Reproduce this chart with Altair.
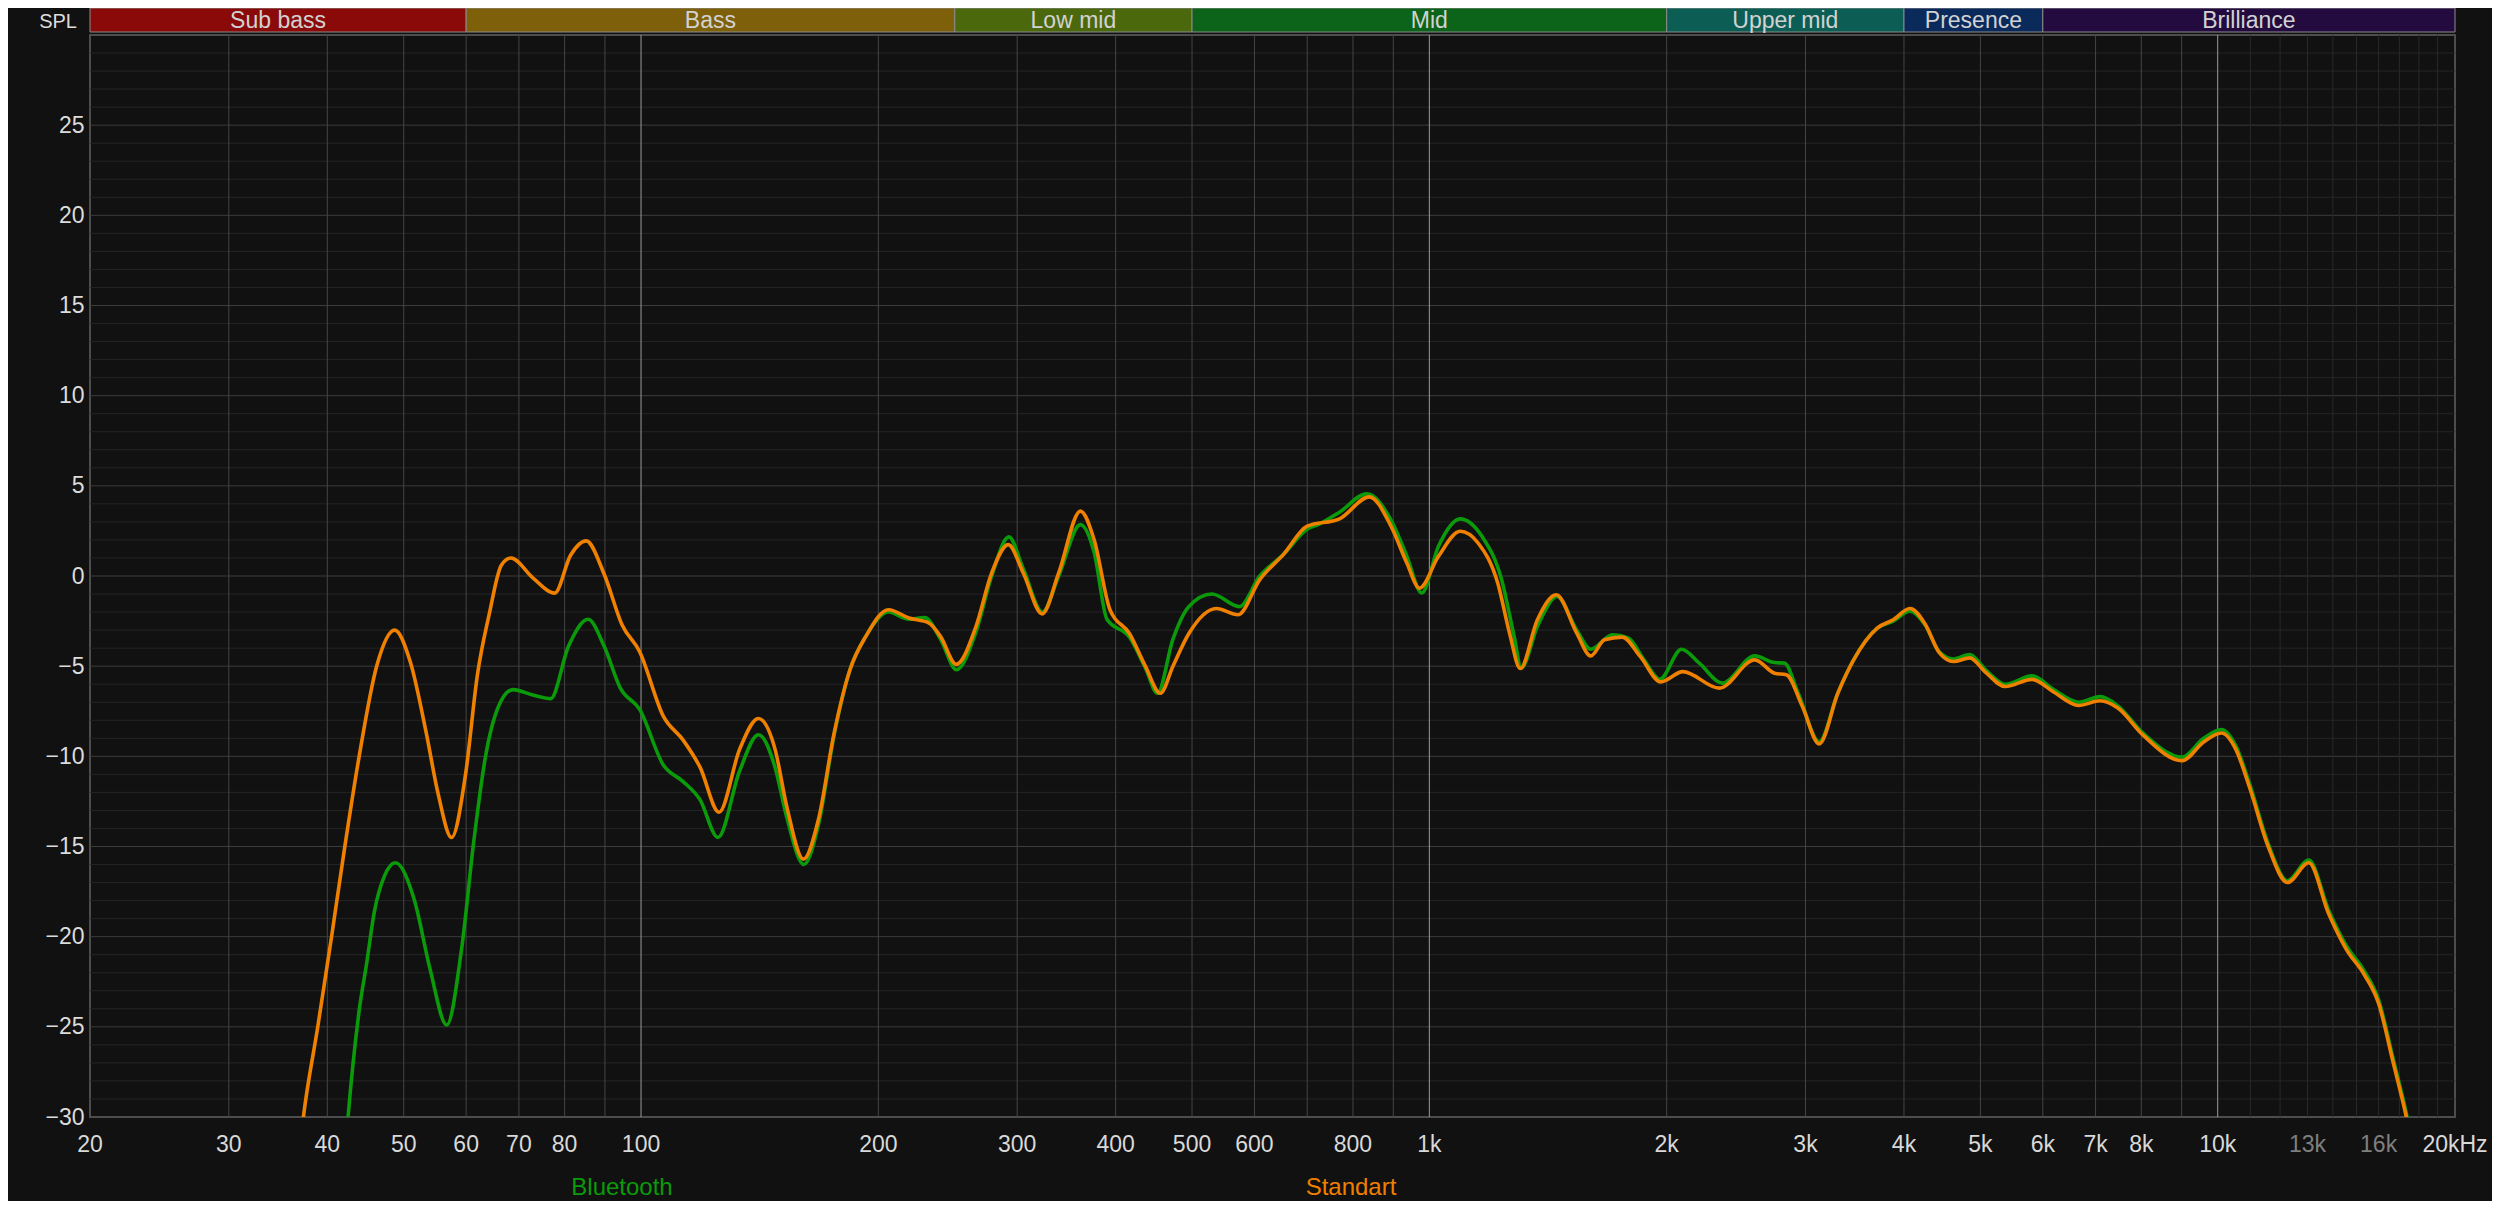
import altair as alt
import pandas as pd

FONT = "Liberation Sans"
W, H = 2365, 1082

# ---- measured curves (frequency in Hz, level in dB SPL) ----
std_freq = [36, 37.3, 38.9, 40.5, 42.1, 43.9, 46.2, 48.7, 51.0, 53.4, 55.3, 57.5, 59.9, 62.0, 64.2,
            66.5, 68.4, 72.9, 77.7, 81.4, 85.2, 89.8, 94.6, 99.6, 106.8, 113.1, 118.8, 125.6, 133.4,
            140.9, 147.9, 153.1, 160.7, 167.9, 175.8, 184.1, 192.8, 206, 218.7, 231.7, 239.8, 251.1,
            266, 278.5, 292.3, 305.4, 322.7, 338.7, 360.9, 375.7, 393.4, 416.6, 436.3, 455.8, 472.9,
            495.2, 536.7, 572, 609.4, 653.1, 699.8, 769.2, 838.9, 894.1, 936.3, 971.6, 1027, 1094,
            1153, 1221, 1264, 1304, 1371, 1449, 1538, 1602, 1668, 1757, 1851, 1966, 2097, 2332, 2587,
            2741, 2837, 2973, 3123, 3297, 3453, 3700, 3876, 4070, 4254, 4434, 4624, 4846, 5078, 5378,
            5815, 6192, 6661, 7093, 7471, 8036, 9015, 9598, 10110, 10540, 10990, 11580, 12260, 13050,
            13820, 14560, 15340, 16000, 16680, 17350, 18000]
std_db = [-36.5, -30, -25, -20, -15, -10, -5, -3.0, -4.8, -8.7, -12.1, -14.5, -11.0, -5.5, -2.1,
          0.6, 1.0, -0.1, -0.95, 1.15, 1.95, 0.1, -2.7, -4.2, -7.8, -9.1, -10.6, -13.1, -9.6,
          -7.9, -9.6, -12.8, -15.7, -13.5, -8.7, -5.2, -3.35, -1.87, -2.33, -2.6, -3.35, -4.9,
          -2.8, 0.17, 1.74, 0.17, -2.1, 0.17, 3.6, 2.0, -1.87, -3.2, -5.0, -6.5, -5.0,
          -3.2, -1.8, -2.15, -0.2, 1.2, 2.76, 3.17, 4.39, 2.76, 0.72, -0.67, 1.09, 2.48,
          1.83, -0.39, -3.17, -5.13, -2.43, -1.04, -3.17, -4.43, -3.54, -3.39, -4.46, -5.87, -5.3, -6.22, -4.65,
          -5.39, -5.48, -7.24, -9.31, -6.5, -4.65, -2.89, -2.43, -1.8, -2.66, -4.25, -4.74, -4.54, -5.34, -6.13,
          -5.73, -6.43, -7.18, -6.92, -7.32, -8.81, -10.24, -9.2, -8.71, -9.6, -11.8, -14.96, -17.0, -15.9,
          -18.7, -20.7, -22.1, -23.7, -26.9, -30, -33.5]

bt_freq = [41.5, 42.5, 43.9, 44.9, 45.9, 47.3, 48.8, 51.6, 54.0, 56.7, 59.2, 61.4, 63.5, 66.5, 68.8, 72.9,
           76.8, 80.9, 85.7, 89.8, 94.1, 99.6, 106.8, 113.1, 118.8, 125.2, 133.4, 140.9, 147.9, 153.1,
           160.9, 167.9, 175.8, 184.1, 192.8, 206, 218.7, 229, 239.8, 251.3, 266, 278.5, 292.8, 305.4,
           323, 338.7, 360.9, 375.7, 390, 416.6, 436.3, 452, 472.9, 495.2, 530, 574, 609.4, 653.1,
           699.8, 722.8, 769.2, 833, 894.1, 936.3, 978, 1027, 1094, 1166, 1235, 1281, 1308, 1371,
           1452, 1538, 1602, 1707, 1788, 1872, 1960, 2089, 2200, 2353, 2587, 2741, 2821, 2937, 3123,
           3297, 3453, 3700, 3876, 4070, 4254, 4434, 4624, 4846, 5078, 5378, 5815, 6192, 6661, 7093,
           7471, 8036, 9015, 9598, 10110, 10540, 10990, 11580, 12260, 13050, 13820, 14560, 15340,
           16000, 16680, 17350, 18000]
bt_db = [-36, -30, -24.1, -21.4, -18.6, -16.6, -15.9, -18.0, -21.8, -24.9, -20.7, -14.6, -10.0, -6.9, -6.3, -6.6,
         -6.8, -3.9, -2.4, -3.9, -6.2, -7.4, -10.5, -11.4, -12.4, -14.5, -10.8, -8.8, -10.6, -13.4,
         -16.0, -13.8, -8.8, -5.2, -3.35, -2.0, -2.4, -2.3, -3.5, -5.2, -3.1, 0.0, 2.17, 0.4,
         -2.0, 0.0, 2.85, 1.3, -2.4, -3.4, -5.1, -6.5, -3.5, -1.7, -1.0, -1.7, 0.0, 1.2,
         2.6, 2.85, 3.54, 4.56, 3.1, 1.1, -0.94, 1.65, 3.17, 2.2, -0.2, -3.35, -5.1, -2.8,
         -1.13, -3.0, -4.06, -3.26, -3.44, -4.65, -5.72, -4.06, -4.83, -5.94, -4.43, -4.8, -4.83, -6.5, -9.19,
         -6.5, -4.65, -2.89, -2.5, -1.95, -2.7, -4.2, -4.6, -4.35, -5.2, -6.0, -5.54, -6.3, -7.0, -6.69,
         -7.2, -8.7, -10.04, -9.0, -8.51, -9.4, -11.6, -14.8, -16.9, -15.75, -18.5, -20.5, -21.9,
         -23.5, -26.7, -29.8, -33.3]

# ---- frequency bands ----
band_names = ["Sub bass", "Bass", "Low mid", "Mid", "Upper mid", "Presence", "Brilliance"]
band_lo = [20, 60, 250, 500, 2000, 4000, 6000]
band_hi = [60, 250, 500, 2000, 4000, 6000, 20000]
band_colors = ["#8a0a0a", "#7f600a", "#4b690c", "#0b6419", "#0c5e55", "#0b2a5c", "#230b40"]

# ---- axes ----
x_tick_vals = [20, 30, 40, 50, 60, 70, 80, 100, 200, 300, 400, 500, 600, 800, 1000, 2000, 3000,
               4000, 5000, 6000, 7000, 8000, 10000, 13000, 16000, 20000]
x_tick_text = ["20", "30", "40", "50", "60", "70", "80", "100", "200", "300", "400", "500", "600",
               "800", "1k", "2k", "3k", "4k", "5k", "6k", "7k", "8k", "10k", "13k", "16k", "20kHz"]
x_tick_dim = [13000, 16000]
y_tick_vals = [-30, -25, -20, -15, -10, -5, 0, 5, 10, 15, 20, 25]

grid_f_major = [30, 40, 50, 60, 70, 80, 90, 200, 300, 400, 500, 600, 700, 800, 900,
                2000, 3000, 4000, 5000, 6000, 7000, 8000, 9000]
grid_f_decade = [100, 1000, 10000]
grid_f_minor = [11000, 12000, 13000, 14000, 15000, 16000, 17000, 18000, 19000]
grid_db_major = [-25, -20, -15, -10, -5, 0, 5, 10, 15, 20, 25]
grid_db_minor = [v for v in range(-29, 30) if v % 5 != 0]

series_names = ["Bluetooth", "Standart"]
series_colors = ["#0a9a0a", "#f08000"]

# ---- tables ----
df_std = pd.DataFrame({"f": std_freq, "db": std_db})
df_bt = pd.DataFrame({"f": bt_freq, "db": bt_db})
df_bands = pd.DataFrame({"name": band_names, "lo": band_lo, "hi": band_hi, "col": band_colors})
df_xt = pd.DataFrame({"f": x_tick_vals, "t": x_tick_text,
                      "c": ["#7f7f7f" if v in x_tick_dim else "#d9d9d9" for v in x_tick_vals]})
df_legend = pd.DataFrame({"name": series_names, "col": series_colors, "px": [532, 1261]})

xs = alt.Scale(type="log", domain=[20, 20000], nice=False)
ys = alt.Scale(domain=[-30, 30], nice=False, zero=False)
yaxis = alt.Axis(values=y_tick_vals, labelFontSize=23, labelColor="#dcdcdc", labelFont=FONT,
                 ticks=False, domain=False, grid=False, labelPadding=6, title=None)


def hrules(vals, color):
    return alt.Chart(pd.DataFrame({"db": vals})).mark_rule(color=color, strokeWidth=1).encode(
        y=alt.Y("db:Q", scale=ys, axis=yaxis))


def vrules(vals, color):
    return alt.Chart(pd.DataFrame({"f": vals})).mark_rule(color=color, strokeWidth=1).encode(
        x=alt.X("f:Q", scale=xs, axis=None))


bands = alt.Chart(df_bands).mark_rect(stroke="#8c8c8c", strokeWidth=1).encode(
    x=alt.X("lo:Q", scale=xs, axis=None), x2="hi:Q",
    y=alt.value(-27), y2=alt.value(-3),
    fill=alt.Fill("col:N", scale=None))

band_text = alt.Chart(df_bands).transform_calculate(
    mid="sqrt(datum.lo * datum.hi)").mark_text(
    font=FONT, fontSize=23, color="#d2d2d2", baseline="alphabetic", align="center").encode(
    x=alt.X("mid:Q", scale=xs, axis=None), y=alt.value(-7), text="name:N")


def curve(df, color):
    return alt.Chart(df).mark_line(color=color, strokeWidth=3.6, interpolate="monotone",
                                   clip=True).encode(
        x=alt.X("f:Q", scale=xs, axis=None), y=alt.Y("db:Q", scale=ys, axis=yaxis))


xlabels = alt.Chart(df_xt).mark_text(font=FONT, fontSize=23, baseline="alphabetic",
                                     align="center").encode(
    x=alt.X("f:Q", scale=xs, axis=None), y=alt.value(H + 35), text="t:N",
    color=alt.Color("c:N", scale=None))

spl = alt.Chart(pd.DataFrame({"t": ["SPL"]})).mark_text(
    font=FONT, fontSize=20, color="#dcdcdc", align="right", baseline="alphabetic").encode(
    x=alt.value(-13), y=alt.value(-7), text="t:N")

legend = alt.Chart(df_legend).mark_text(font=FONT, fontSize=24, baseline="alphabetic",
                                        align="center").encode(
    x=alt.X("px:Q", scale=None), y=alt.value(H + 78), text="name:N",
    color=alt.Color("col:N", scale=None))

chart = alt.layer(
    hrules(grid_db_minor, "#252525"),
    hrules(grid_db_major, "#3c3c3c"),
    vrules(grid_f_minor, "#292929"),
    vrules(grid_f_major, "#454545"),
    vrules(grid_f_decade, "#9a9a9a"),
    bands, band_text,
    curve(df_bt, series_colors[0]),
    curve(df_std, series_colors[1]),
    xlabels, spl, legend,
).properties(
    width=W, height=H,
    autosize=alt.AutoSizeParams(type="none"),
    padding={"left": 82, "top": 27, "right": 37, "bottom": 84},
).configure(background="#111111").configure_view(stroke="#4d4d4d", strokeWidth=2)

chart.save("out.html", embed_options={"renderer": "svg", "actions": False})
